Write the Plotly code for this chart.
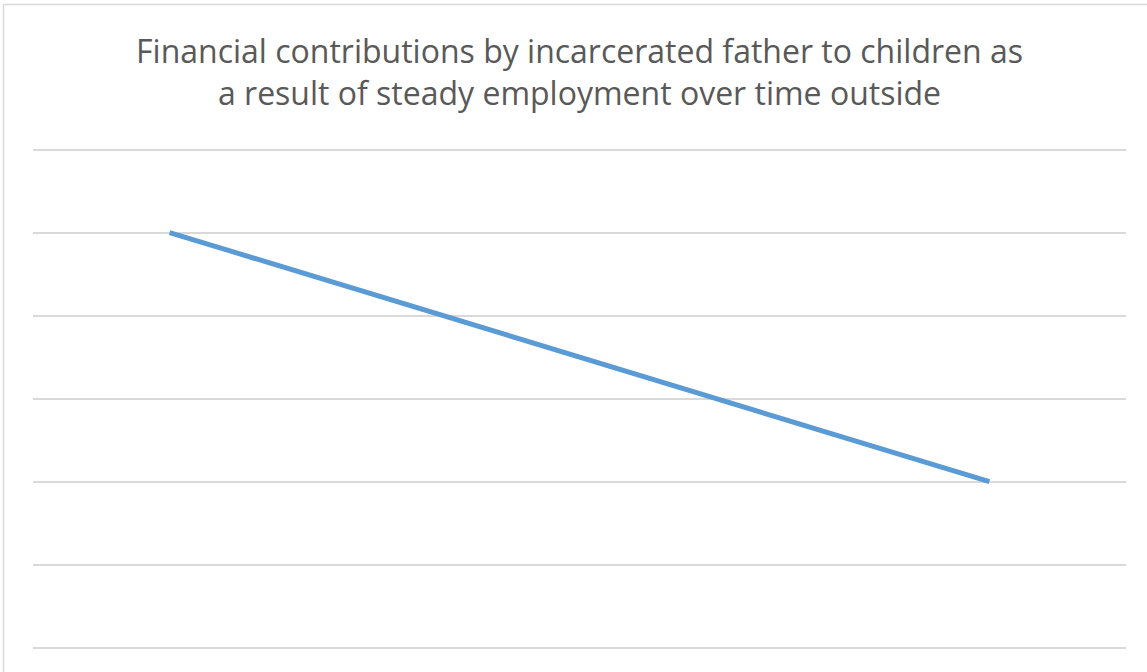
import plotly.graph_objects as go

categories = ["1", "2", "3", "4"]
values = [6, 5, 4, 3]
title_lines = ["Financial contributions by incarcerated father to children as",
               "a result of steady employment over time outside"]

W, H = 1147, 672
L, R, T = 33, 21, 148
px_per_unit = 83.03
y_top = 7 + 1.5 / px_per_unit
y_bot = y_top - (H - T) / px_per_unit

fig = go.Figure()
fig.add_trace(go.Scatter(
    x=list(range(len(categories))), y=values, mode="lines",
    line=dict(color="#5B9BD5", width=5), hoverinfo="skip", showlegend=False,
))

pw, ph = W - L - R, H - T
fig.update_layout(
    width=W, height=H,
    margin=dict(l=L, r=R, t=T, b=0, pad=0),
    paper_bgcolor="white", plot_bgcolor="white",
    title=dict(text="<br>".join(title_lines), x=0.5, xref="paper", xanchor="center",
               y=1 - 63 / H, yref="container", yanchor="middle",
               font=dict(family="Open Sans", size=32, color="#595959")),
    xaxis=dict(range=[-0.5, len(categories) - 0.5], showgrid=False, showticklabels=False,
               zeroline=False, showline=False, ticks="",
               tickvals=list(range(len(categories))), ticktext=categories),
    yaxis=dict(range=[y_bot, y_top], dtick=1, tick0=0, showgrid=True, gridcolor="#D9D9D9",
               gridwidth=1.5, showticklabels=False, zeroline=False, showline=False, ticks=""),
    shapes=[
        dict(type="line", xref="paper", yref="paper",
             x0=(3.5 - L) / pw, x1=(W + 5 - L) / pw,
             y0=1 + (T - 4.5) / ph, y1=1 + (T - 4.5) / ph,
             line=dict(color="#D9D9D9", width=1.5)),
        dict(type="line", xref="paper", yref="paper",
             x0=(3.5 - L) / pw, x1=(3.5 - L) / pw,
             y0=1 + (T - 4.5) / ph, y1=-0.05,
             line=dict(color="#D9D9D9", width=1.5)),
    ],
)

fig.write_html("out.html", config={"displayModeBar": False},
               post_script="document.body.style.margin='0';")
